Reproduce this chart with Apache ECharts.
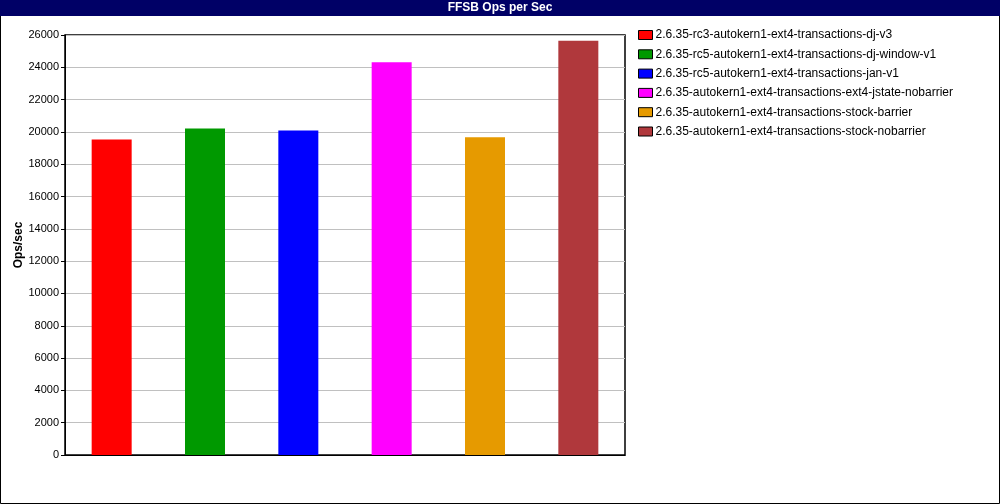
<!DOCTYPE html>
<html><head><meta charset="utf-8">
<script src="https://cdn.jsdelivr.net/npm/echarts@6/dist/echarts.min.js"></script>
<style>html,body{margin:0;padding:0;background:#fff}#c{width:1000px;height:504px}</style>
</head><body><div id="c"></div>
<script>
const seriesNames = [
  "2.6.35-rc3-autokern1-ext4-transactions-dj-v3",
  "2.6.35-rc5-autokern1-ext4-transactions-dj-window-v1",
  "2.6.35-rc5-autokern1-ext4-transactions-jan-v1",
  "2.6.35-autokern1-ext4-transactions-ext4-jstate-nobarrier",
  "2.6.35-autokern1-ext4-transactions-stock-barrier",
  "2.6.35-autokern1-ext4-transactions-stock-nobarrier"
];
const values = [19530, 20210, 20090, 24310, 19670, 25650];
const colors = ["#ff0000", "#009900", "#0000ff", "#ff00ff", "#e69a00", "#b0383c"];
const categories = ["", "", "", "", "", ""];
const yTicks = {min: 0, max: 26000, interval: 2000};

const font = "Liberation Sans, DejaVu Sans, sans-serif";
const series = seriesNames.map((n, i) => ({
  name: n,
  type: "bar",
  stack: "all",
  barWidth: 40,
  itemStyle: {color: colors[i]},
  data: values.map((v, j) => j === i ? v : null)
}));

const chart = echarts.init(document.getElementById("c"), null, {renderer: "canvas"});
chart.setOption({
  animation: false,
  backgroundColor: "#fff",
  graphic: [
    {type: "rect", left: 0, top: 0, z: -1, shape: {width: 999, height: 503}, style: {fill: "#fff", stroke: "#000", lineWidth: 1}},
    {type: "rect", left: 0, top: 0, z: 0, shape: {width: 1000, height: 16}, style: {fill: "#000066"}},
    {type: "text", left: "center", top: 2, z: 1, style: {text: "FFSB Ops per Sec", fill: "#fff", font: "bold 12px " + font}}
  ],
  grid: {left: 65, top: 35, right: 375, bottom: 49, show: true, borderColor: "#000", borderWidth: 1.5, outerBoundsMode: "none", containLabel: false},
  legend: {
    orient: "vertical", left: 633, top: 24,
    itemWidth: 14, itemHeight: 9, itemGap: 7.3,
    icon: "rect",
    itemStyle: {borderColor: "#000", borderWidth: 1},
    textStyle: {fontFamily: font, fontSize: 12, color: "#000", padding: [0, 0, 0, -2]},
    data: seriesNames
  },
  xAxis: {
    type: "category", data: categories,
    axisLine: {lineStyle: {color: "#000"}},
    axisTick: {show: false}, axisLabel: {show: false}
  },
  yAxis: {
    type: "value", min: yTicks.min, max: yTicks.max, interval: yTicks.interval,
    name: "Ops/sec", nameLocation: "middle", nameGap: 40, nameMoveOverlap: false,
    nameTextStyle: {fontFamily: font, fontSize: 12, fontWeight: "bold", color: "#000"},
    axisLine: {show: true, lineStyle: {color: "#000"}},
    axisTick: {show: true, length: 4, lineStyle: {color: "#000"}},
    axisLabel: {fontFamily: font, fontSize: 11, color: "#000", margin: 6, formatter: v => String(v)},
    splitLine: {lineStyle: {color: "#c0c0c0", width: 1}}
  },
  series: series
});
</script></body></html>
